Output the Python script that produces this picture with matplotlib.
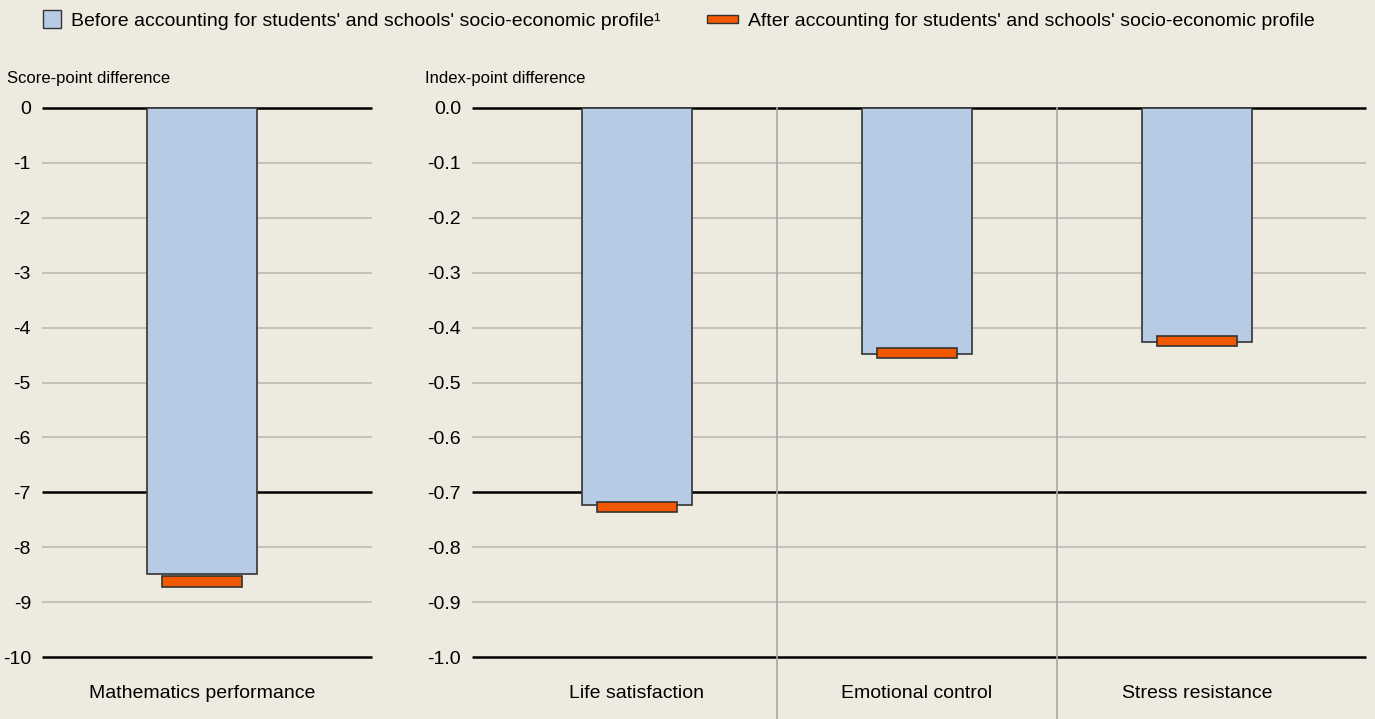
import matplotlib
matplotlib.use("Agg")
import matplotlib.pyplot as plt
from matplotlib.patches import Patch, Rectangle
from matplotlib.legend_handler import HandlerPatch
from matplotlib.lines import Line2D

# data
math_cat = ["Mathematics performance"]
math_before = [-8.48]
math_after = [-8.62]

wb_cats = ["Life satisfaction", "Emotional control", "Stress resistance"]
wb_before = [-0.723, -0.448, -0.426]
wb_after = [-0.727, -0.446, -0.424]

left_ticks = list(range(0, -11, -1))
right_ticks = [round(-0.1 * i, 1) + 0.0 for i in range(11)]

BG = "#EDEAE0"
BLUE = "#B7CCE4"
ORANGE = "#F25800"
EDGE = "#333333"
GRID = "#BDBBB5"

plt.rcParams["font.family"] = ["Liberation Sans Narrow", "Liberation Sans", "DejaVu Sans"]

W, H = 1375, 719
fig = plt.figure(figsize=(W / 100, H / 100), dpi=100, facecolor=BG)

def box(x0, x1, ytop=108, ybot=657):
    return [x0 / W, 1 - ybot / H, (x1 - x0) / W, (ybot - ytop) / H]

axL = fig.add_axes(box(42, 372))
axR = fig.add_axes(box(472, 1366))


def style(ax, ticks, fmt, black):
    ax.set_facecolor(BG)
    for s in ax.spines.values():
        s.set_visible(False)
    ax.set_yticks(ticks)
    ax.set_yticklabels([fmt(t) for t in ticks], fontsize=14)
    ax.tick_params(axis="y", length=0, pad=8)
    ax.tick_params(axis="x", length=0, pad=20, labelsize=14)
    for t in ticks:
        if any(abs(t - b) < 1e-9 for b in black):
            ax.axhline(t, color="black", lw=1.8, zorder=1, clip_on=False, solid_capstyle="butt")
        else:
            ax.axhline(t, color=GRID, lw=1.2, zorder=1)


style(axL, left_ticks, lambda v: f"{v:d}", [0, -7, -10])
style(axR, right_ticks, lambda v: f"{abs(v):.1f}" if v == 0 else f"{v:.1f}", [0.0, -0.7, -1.0])

# left panel
xl = range(len(math_cat))
axL.bar(xl, math_before, width=0.336, color=BLUE, edgecolor=EDGE, lw=1.2, zorder=3)
hL = 0.2
axL.bar(xl, [hL] * len(math_after), bottom=[v - hL / 2 for v in math_after], width=0.242,
        color=ORANGE, edgecolor=EDGE, lw=1.2, zorder=4)
axL.set_xticks(list(xl))
axL.set_xticklabels(math_cat)
axL.set_xlim(-0.485, 0.515)
axL.set_ylim(-10, 0)

# right panel
xr = range(len(wb_cats))
axR.bar(xr, wb_before, width=0.393, color=BLUE, edgecolor=EDGE, lw=1.2, zorder=3)
hR = 0.018
axR.bar(xr, [hR] * len(wb_after), bottom=[v - hR / 2 for v in wb_after], width=0.286,
        color=ORANGE, edgecolor=EDGE, lw=1.2, zorder=4)
axR.set_xticks(list(xr))
axR.set_xticklabels(wb_cats)
axR.set_xlim(-0.589, 2.604)
axR.set_ylim(-1.0, 0)

# separators between categories, running down through the labels
for sep in [0.5, 1.5]:
    axR.add_line(Line2D([sep, sep], [0, -1.115], color="#A8A7A2", lw=1.2,
                        zorder=2, clip_on=False))

fig.text(7 / W, 1 - 78 / H, "Score-point difference", fontsize=12, va="center", ha="left")
fig.text(425 / W, 1 - 78 / H, "Index-point difference", fontsize=12, va="center", ha="left")


# legend
def thin_bar(legend, orig_handle, xdescent, ydescent, width, height, fontsize):
    return Rectangle((-xdescent, -ydescent + height * 0.28), width, height * 0.44)


def square(legend, orig_handle, xdescent, ydescent, width, height, fontsize):
    side = height * 1.05
    return Rectangle((-xdescent + width - side, -ydescent - 0.02 * height), side, side)


h1 = Patch(facecolor=BLUE, edgecolor=EDGE, lw=1.0)
h2 = Patch(facecolor=ORANGE, edgecolor=EDGE, lw=1.0)
fig.legend([h1, h2],
           ["Before accounting for students' and schools' socio-economic profile\u00b9",
            "After accounting for students' and schools' socio-economic profile"],
           handler_map={h1: HandlerPatch(patch_func=square), h2: HandlerPatch(patch_func=thin_bar)},
           loc="upper left", bbox_to_anchor=(0.009, 1.01), ncol=2, frameon=False,
           fontsize=14, handlelength=1.6, handleheight=1.0, handletextpad=0.5,
           columnspacing=2.4)

fig.savefig("out.png", dpi=100, facecolor=BG)
